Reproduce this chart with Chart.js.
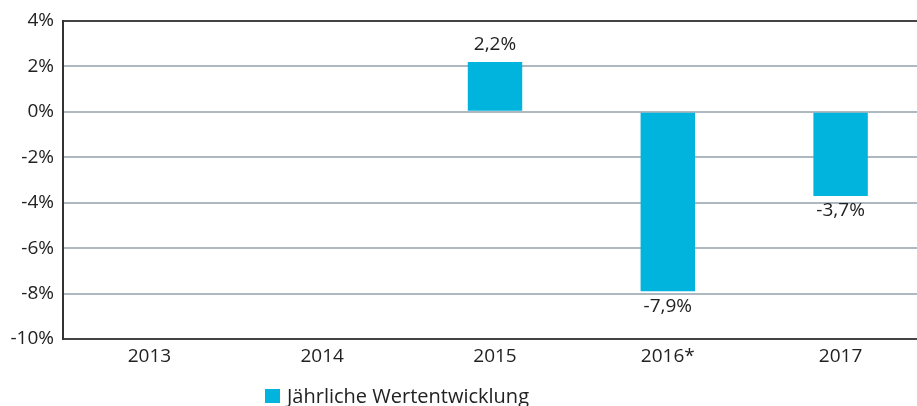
<!DOCTYPE html>
<html>
<head>
<meta charset="utf-8">
<script src="https://cdn.jsdelivr.net/npm/chart.js@4.4.1/dist/chart.umd.min.js"></script>
<style>
  html, body { margin: 0; padding: 0; background: #fff; overflow: hidden; }
  #wrap { width: 940px; height: 406px; }
</style>
</head>
<body>
<div id="wrap"><canvas id="myChart" width="940" height="406"></canvas></div>
<script>
// categories and values
const years = ['2013', '2014', '2015', '2016*', '2017'];
const wertentwicklung = [null, null, 2.2, -7.9, -3.7];
const seriesName = 'Jährliche Wertentwicklung';
const yMin = -10;
const yMax = 4;
const yStep = 2;

const fontName = "'Open Sans', 'Noto Sans', sans-serif";
const barColor = '#00b4de';

// value labels above / below each bar
const valueLabels = {
    id: 'valueLabels',
    afterDatasetsDraw(chart) {
        const ctx = chart.ctx;
        const meta = chart.getDatasetMeta(0);
        ctx.save();
        ctx.font = '19px ' + fontName;
        ctx.fillStyle = '#222';
        ctx.textAlign = 'center';
        ctx.textBaseline = 'middle';
        meta.data.forEach(function (bar, i) {
            const v = wertentwicklung[i];
            if (v === null) return;
            const txt = v.toFixed(1).replace('.', ',') + '%';
            const y = v >= 0 ? bar.y - 17 : bar.y + 15;
            ctx.fillText(txt, bar.x, y);
        });
        ctx.restore();
    }
};

// simple legend drawn below the axis
const bottomLegend = {
    id: 'bottomLegend',
    afterDraw(chart) {
        const ctx = chart.ctx;
        ctx.save();
        ctx.fillStyle = barColor;
        ctx.fillRect(265, 389, 15, 14);
        ctx.font = '20px ' + fontName;
        ctx.fillStyle = '#222';
        ctx.textAlign = 'left';
        ctx.textBaseline = 'middle';
        ctx.fillText(chart.data.datasets[0].label, 287, 397);
        ctx.restore();
    }
};

const ctx = document.getElementById('myChart').getContext('2d');
const config = {
    type: 'bar',
    data: {
        labels: years,
        datasets: [{
            label: seriesName,
            data: wertentwicklung,
            backgroundColor: barColor,
            categoryPercentage: 1,
            barPercentage: 0.315
        }]
    },
    options: {
        responsive: false,
        animation: false,
        layout: { padding: { top: 21, right: 13, bottom: 0, left: 0 } },
        plugins: {
            legend: { display: false },
            tooltip: { enabled: false }
        },
        scales: {
            x: {
                grid: { display: false },
                border: { display: true, color: '#444', width: 2 },
                ticks: {
                    color: '#222',
                    font: { family: fontName, size: 19 },
                    padding: -2,
                    maxRotation: 0
                },
                afterFit: function (s) { s.height = 67; }
            },
            y: {
                min: yMin,
                max: yMax,
                ticks: {
                    stepSize: yStep,
                    color: '#222',
                    font: { family: fontName, size: 19 },
                    padding: 9,
                    callback: function (v) { return v + '%'; }
                },
                grid: {
                    drawTicks: false,
                    color: function (c) {
                        return (c.tick && (c.tick.value === yMax || c.tick.value === yMin)) ? '#444' : '#aeb8c0';
                    },
                    lineWidth: 2
                },
                border: { display: true, color: '#333', width: 2 },
                afterFit: function (s) { s.width = 63; }
            }
        }
    },
    plugins: [valueLabels, bottomLegend]
};
const myChart = new Chart(ctx, config);
</script>
</body>
</html>
